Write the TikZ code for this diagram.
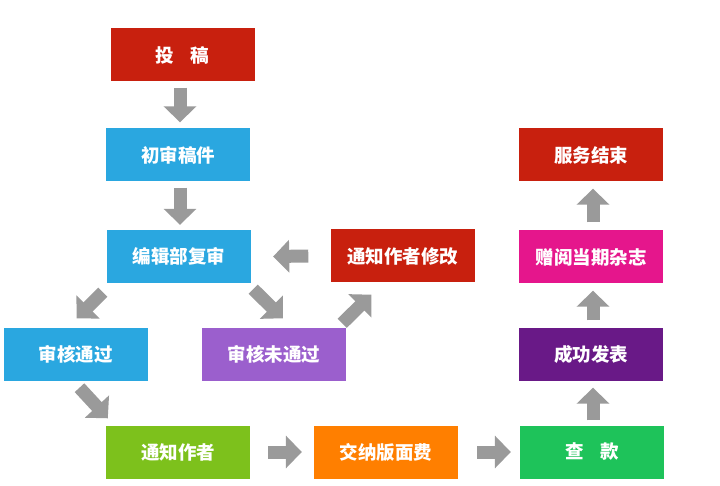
\documentclass[tikz,border=0pt]{standalone}
\usepackage{fontspec}
\newfontfamily\cjk{Noto Sans CJK SC}
\usetikzlibrary{arrows.meta}
\definecolor{cred}{RGB}{200,32,14}
\definecolor{cblue}{RGB}{42,167,224}
\definecolor{cpurple}{RGB}{155,95,205}
\definecolor{clime}{RGB}{125,193,28}
\definecolor{corange}{RGB}{255,127,0}
\definecolor{cgreen}{RGB}{30,195,90}
\definecolor{cdpurple}{RGB}{105,25,135}
\definecolor{cmagenta}{RGB}{229,22,140}
\definecolor{cgray}{RGB}{154,154,154}
\tikzset{
  box/.style={minimum width=144pt, minimum height=53pt, inner sep=0pt, text=white, font=\cjk\bfseries\fontsize{18.5}{22}\selectfont},
  barrow/.style={draw=cgray, line width=13pt, -{Triangle[width=32pt,length=16pt]}}
}
\begin{document}
\begin{tikzpicture}[x=1pt,y=-1pt]
\useasboundingbox (0,0) rectangle (720,486);
\node[box, fill=cred] (tg) at (182.5,55) {投\hspace{0.9em}稿};
\node[box, fill=cblue] (cs) at (178,155) {初审稿件};
\node[box, fill=cblue] (bj) at (179,256.5) {编辑部复审};
\node[box, fill=cred] (tzxg) at (402.5,256) {通知作者修改};
\node[box, fill=cblue] (shtg) at (75.5,354) {审核通过};
\node[box, fill=cpurple] (shwtg) at (274,354) {审核未通过};
\node[box, fill=clime] (tzzz) at (178,452) {通知作者};
\node[box, fill=corange] (jn) at (386,452) {交纳版面费};
\node[box, fill=cgreen] (ck) at (592,452) {查\hspace{0.9em}款};
\node[box, fill=cdpurple] (cgfb) at (591,354) {成功发表};
\node[box, fill=cmagenta] (zy) at (591,257) {赠阅当期杂志};
\node[box, fill=cred] (fw) at (591,155) {服务结束};

\draw[barrow] ([xshift=-2.5pt,yshift=-6pt]tg.south) -- ([xshift=-2.5pt,yshift=6pt]tg.south |- cs.north);
\draw[barrow] ([xshift=2pt,yshift=-6pt]cs.south) -- ([xshift=2pt,yshift=5pt]cs.south |- bj.north);
\draw[barrow] ([xshift=-22pt]tzxg.west) -- ([xshift=22pt]bj.east);
\draw[barrow] ([shift={(-4,9)}]bj.south west) -- ([shift={(-71,-9)}]shtg.north east);
\draw[barrow] ([shift={(2,6)}]bj.south east) -- ([shift={(81,-9)}]shwtg.north west);
\draw[barrow] ([shift={(-4,-4)}]shwtg.north east) -- ([shift={(41,12)}]tzxg.south west);
\draw[barrow] ([shift={(4,7)}]shtg.south) -- ([shift={(2,-7)}]tzzz.north west);
\draw[barrow] ([xshift=18pt]tzzz.east) -- ([xshift=-12pt]jn.west);
\draw[barrow] ([xshift=19pt]jn.east) -- ([xshift=-9pt]ck.west);
\draw[barrow] ([xshift=1pt,yshift=5pt]ck.north) -- ([xshift=1pt,yshift=-7pt]ck.north |- cgfb.south);
\draw[barrow] ([xshift=2pt,yshift=7pt]cgfb.north) -- ([xshift=2pt,yshift=-7pt]cgfb.north |- zy.south);
\draw[barrow] ([xshift=2pt,yshift=8pt]zy.north) -- ([xshift=2pt,yshift=-7pt]zy.north |- fw.south);
\end{tikzpicture}
\end{document}
